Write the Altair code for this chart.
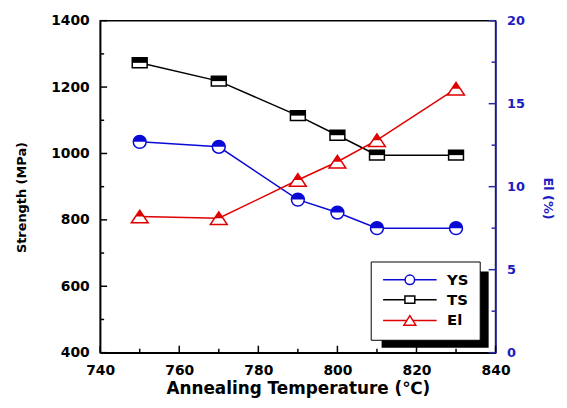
import altair as alt
import pandas as pd

# ---- data ----
temps = [750, 770, 790, 800, 810, 830]
ys_vals = [1035, 1020, 861, 822, 775, 775]
ts_vals = [1273, 1218, 1114, 1055, 995, 995]
el_vals = [8.2, 8.1, 10.4, 11.5, 12.8, 15.9]

series_names = ["YS", "TS", "El"]
series_colors = ["#0a0ad6", "#000000", "#e00000"]

x_major = [740, 760, 780, 800, 820, 840]
x_minor = [750, 770, 790, 810, 830]
left_major = [400, 600, 800, 1000, 1200, 1400]
left_minor = [500, 700, 900, 1100, 1300]
right_major = [0, 5, 10, 15, 20]
right_minor = [2.5, 7.5, 12.5, 17.5]

# ---- tables ----
df_ys = pd.DataFrame({"temp": temps, "value": ys_vals, "series": "YS"})
df_ts = pd.DataFrame({"temp": temps, "value": ts_vals, "series": "TS"})
df_el = pd.DataFrame({"temp": temps, "value": el_vals, "series": "El"})
df_all = pd.concat([df_ys, df_ts], ignore_index=True)

FONT = "DejaVu Sans"
W, H = 399, 335
MAJ, MIN = 7, 4

# marker shapes (unit box) : full outline and top half
shapes = {
    "YS": ("circle", "M-1,0 A1,1 0 0 1 1,0 Z", 169),
    "TS": ("M-1,-0.67 L1,-0.67 L1,0.67 L-1,0.67 Z", "M-1,-0.67 L1,-0.67 L1,0 L-1,0 Z", 225),
    "El": ("M0,-0.75 L1,0.75 L-1,0.75 Z", "M0,-0.75 L0.5,0 L-0.5,0 Z", 289),
}
legend_paths = [
    "M-1,0 L2.7,0 M4.3,0 L8,0 M2.7,0 A0.8,0.8 0 1 1 4.3,0 A0.8,0.8 0 1 1 2.7,0 Z",
    "M-1,0 L2.67,0 M4.33,0 L8,0 M2.67,-0.6 L4.33,-0.6 L4.33,0.6 L2.67,0.6 Z",
    "M-1,0 L3,0 M4,0 L8,0 M3.5,-0.8 L4.5,0.8 L2.5,0.8 Z",
]

x_enc = alt.X(
    "temp:Q",
    scale=alt.Scale(domain=[740, 840], nice=False, zero=False),
    axis=alt.Axis(
        values=x_major,
        labelOverlap=False,
        labelFlush=False,
        ticks=False,
        labelPadding=11,
        labelFontSize=14,
        titleFontSize=17,
        titlePadding=3,
        format="d",
    ),
    title="Annealing Temperature (℃)",
)

y_left = alt.Y(
    "value:Q",
    scale=alt.Scale(domain=[400, 1400], nice=False, zero=False),
    axis=alt.Axis(
        values=left_major,
        labelOverlap=False,
        ticks=False,
        labelPadding=11,
        labelFontSize=14,
        titleFontSize=13,
        titlePadding=22,
        titleY=178,
        format="d",
    ),
    title="Strength (MPa)",
)

AX_BLUE = "#2a2aa5"
LAB_BLUE = "#1c1cc0"
y_right = alt.Y(
    "value:Q",
    scale=alt.Scale(domain=[0, 20], nice=False, zero=False),
    axis=alt.Axis(
        orient="right",
        values=right_major,
        labelOverlap=False,
        ticks=False,
        labelPadding=11,
        labelFontSize=13,
        titleFontSize=13,
        titlePadding=16,
        titleY=179,
        domainColor=AX_BLUE,
        labelColor=LAB_BLUE,
        titleColor=LAB_BLUE,
    ),
    title="El (%)",
)


def series_layers(df, name, color, y_enc):
    full, half, size = shapes[name]
    base = alt.Chart(df)
    line = base.mark_line(color=color, strokeWidth=1.5).encode(x=x_enc, y=y_enc)
    open_pt = base.mark_point(
        shape=full, size=size, filled=True, fill="white", stroke=color,
        strokeWidth=1.5, opacity=1
    ).encode(x=x_enc, y=y_enc)
    half_pt = base.mark_point(
        shape=half, size=size, filled=True, fill=color, strokeWidth=0, opacity=1
    ).encode(x=x_enc, y=y_enc)
    return [line, open_pt, half_pt]


def x_ticks_layer(vals, length):
    return alt.Chart(pd.DataFrame({"temp": vals})).mark_rule(
        color="black", strokeWidth=1.5
    ).encode(x=x_enc, y=alt.value(H), y2=alt.value(H - length))


def left_ticks_layer(vals, length):
    return alt.Chart(pd.DataFrame({"value": vals})).mark_rule(
        color="black", strokeWidth=1.5
    ).encode(y=y_left, x=alt.value(0), x2=alt.value(length))


def right_ticks_layer(vals, length):
    return alt.Chart(pd.DataFrame({"value": vals})).mark_rule(
        color=AX_BLUE, strokeWidth=1.5
    ).encode(y=y_right, x=alt.value(W), x2=alt.value(W - length))


# legend shadow (decoration)
shadow = alt.Chart(alt.Data(values=[{"a": 1}])).mark_rect(color="black").encode(
    x=alt.value(284), x2=alt.value(392), y=alt.value(253), y2=alt.value(330)
)

leg = alt.Legend(
    title=None,
    orient="none",
    legendX=273,
    legendY=243,
    fillColor="white",
    strokeColor="black",
    padding=11,
    labelFont=FONT,
    labelFontWeight="bold",
    labelFontSize=15,
    labelColor="black",
    symbolSize=144,
    symbolStrokeWidth=1.5,
    symbolFillColor="white",
    symbolOpacity=1,
    labelOffset=51,
    rowPadding=4,
)

carrier = alt.Chart(df_all).transform_filter("false").mark_point(
    filled=True, fill="white", strokeWidth=1.5, opacity=1
).encode(
    x=x_enc,
    y=y_left,
    stroke=alt.Stroke("series:N", scale=alt.Scale(domain=series_names, range=series_colors), legend=leg),
    shape=alt.Shape("series:N", scale=alt.Scale(domain=series_names, range=legend_paths), legend=leg),
)

left = alt.layer(
    shadow,
    x_ticks_layer(x_major, MAJ),
    x_ticks_layer(x_minor, MIN),
    left_ticks_layer(left_major, MAJ),
    left_ticks_layer(left_minor, MIN),
    *series_layers(df_ys, "YS", series_colors[0], y_left),
    *series_layers(df_ts, "TS", series_colors[1], y_left),
    carrier,
)
right = alt.layer(
    right_ticks_layer(right_major, MAJ),
    right_ticks_layer(right_minor, MIN),
    *series_layers(df_el, "El", series_colors[2], y_right),
)

chart = (
    alt.layer(left, right)
    .resolve_scale(y="independent")
    .properties(
        width=W,
        height=H,
        padding={"left": 8, "top": 4, "right": 5, "bottom": 5},
        background="white",
    )
    .configure_axis(
        grid=False,
        labelFont=FONT,
        labelFontWeight="bold",
        titleFont=FONT,
        titleFontWeight="bold",
        domainColor="black",
        labelColor="black",
        titleColor="black",
        domainWidth=1.5,
    )
    .configure_view(stroke="black", strokeWidth=1.5)
)

chart.save("out.html", embed_options={"renderer": "svg", "actions": False})
